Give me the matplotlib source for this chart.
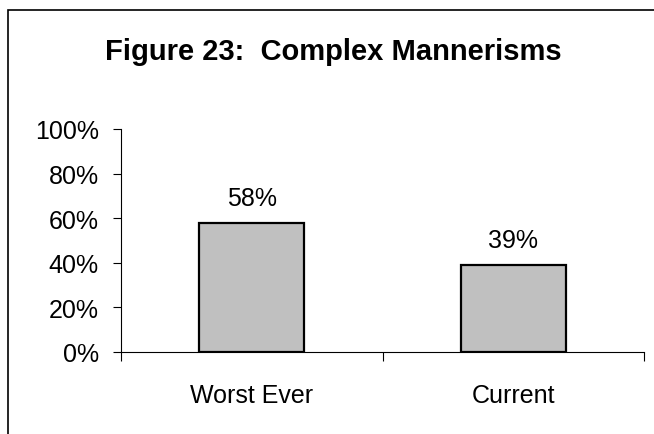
import matplotlib.pyplot as plt
from matplotlib.patches import Rectangle
from matplotlib.ticker import FixedLocator, FuncFormatter

categories = ["Worst Ever", "Current"]
values = [58, 39]
labels = ["58%", "39%"]
y_ticks = [0, 20, 40, 60, 80, 100]

plt.rcParams['font.family'] = ['Liberation Sans', 'DejaVu Sans']

fig = plt.figure(figsize=(6.54, 4.35), dpi=100)
ax = fig.add_axes([121 / 654, 1 - 353 / 435, 523 / 654, 223 / 435])

x = list(range(len(categories)))
ax.bar(x, values, width=0.4, color='#c0c0c0', edgecolor='black', linewidth=1.6, zorder=3)

for xi, v, lab in zip(x, values, labels):
    ax.annotate(lab, (xi, v), xytext=(0, 18), textcoords='offset points',
                ha='center', va='center', fontsize=18)

ax.set_xlim(-0.5, len(categories) - 0.5)
ax.set_ylim(0, 100)
ax.set_yticks(y_ticks)
ax.yaxis.set_major_formatter(FuncFormatter(lambda v, p: f"{v:.0f}%"))
ax.tick_params(axis='y', length=6, width=0.8, pad=10, labelsize=18, direction='out')

ax.set_xticks(x)
ax.set_xticklabels(categories)
ax.tick_params(axis='x', which='major', length=0, pad=22, labelsize=18)
ax.xaxis.set_minor_locator(FixedLocator([-0.5 + i for i in range(len(categories) + 1)]))
ax.tick_params(axis='x', which='minor', length=6.5, width=0.8, direction='out')

for s in ['top', 'right']:
    ax.spines[s].set_visible(False)
for s in ['left', 'bottom']:
    ax.spines[s].set_linewidth(0.8)

fig.text(0.51, 1 - 52 / 435, "Figure 23:  Complex Mannerisms", ha='center', va='center',
         fontsize=21, fontweight='bold')

# outer frame, cut off at right and bottom like the original
fig.patches.append(Rectangle((8 / 654, -0.1), 1.2, 1 - 11 / 435 + 0.1, transform=fig.transFigure,
                             fill=False, edgecolor='black', linewidth=1.2))

fig.savefig("out.png", dpi=100)
